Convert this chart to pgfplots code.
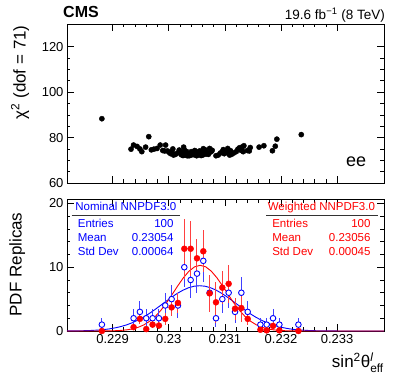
\documentclass[border=0pt]{standalone}
\usepackage{fontspec}
\setmainfont{Liberation Sans}
\usepackage{amsmath}
\usepackage{pgfplots}
\pgfplotsset{compat=1.18}
\definecolor{rootblue}{RGB}{0,0,255}
\definecolor{rootred}{RGB}{255,0,0}
\pgfplotsset{
  panel/.style={
    scale only axis, width=317pt,
    xmin=0.228189, xmax=0.233834,
    axis line style={black, line width=0.8pt},
    tick style={black, line width=0.6pt},
    major tick length=7pt, minor tick length=3.5pt,
    tick label style={font=\fontsize{13}{13}\selectfont},
    /pgf/number format/assume math mode=true,
    scaled x ticks=false, scaled y ticks=false,
    xtick={0.229,0.23,0.231,0.232,0.233},
    minor x tick num=4,
    clip=false,
  },
}
\tikzset{stat/.style={font=\fontsize{11.5}{11.5}\selectfont, inner sep=0pt}}
\begin{document}
\begin{tikzpicture}
\useasboundingbox (0pt,0pt) rectangle (399pt,383pt);
\node[anchor=base west, inner sep=0pt] at (63pt,365pt) {\fontsize{16}{16}\selectfont\bfseries CMS};
\node[anchor=base east, inner sep=0pt] at (385pt,363.5pt) {\fontsize{13.5}{13.5}\selectfont 19.6 fb\textsuperscript{−1} (8 TeV)};

% ---------------- top panel ----------------
\begin{axis}[panel, at={(67pt,200pt)}, anchor=south west, height=159pt,
  ymin=60, ymax=130, ytick={60,80,100,120}, minor y tick num=3,
  xticklabels={},
  ylabel={χ\textsuperscript{2} (dof = 71)},
  ylabel style={at={(axis description cs:-0.148,0.696)}, anchor=center, font=\fontsize{17}{17}\selectfont},
]
\addplot[only marks, mark=*, mark size=2.6pt, black] coordinates {
(0.228810,88.3)
(0.229329,74.9) (0.229374,76.7)
(0.229437,76.1) (0.229521,73.8) (0.229487,75.0)
(0.229589,75.8) (0.229645,80.4)
(0.229691,74.6) (0.229736,74.9)
(0.229792,75.2) (0.229849,76.7)
(0.229894,74.3) (0.229928,74.1) (0.229945,76.7) (0.229979,74.1)
(0.230007,73.5) (0.230035,72.9) (0.230058,73.8) (0.230086,72.3) (0.230074,75.0)
(0.230120,72.6) (0.230159,73.2) (0.230187,74.5) (0.230210,73.8)
(0.230266,75.8) (0.230278,72.3) (0.230306,73.5) (0.230329,72.0) (0.230244,72.7) (0.230295,73.0) (0.230227,72.4) (0.230317,73.9) (0.230255,72.1) (0.230283,74.4)
(0.230345,72.9) (0.230374,72.3) (0.230402,73.8) (0.230430,72.6) (0.230362,72.0) (0.230413,73.3) (0.230441,72.5) (0.230391,72.2)
(0.230453,73.2) (0.230498,72.0) (0.230537,72.6) (0.230549,74.1) (0.230470,72.4) (0.230515,73.5) (0.230487,72.9) (0.230526,73.0) (0.230464,74.3)
(0.230571,73.2) (0.230605,72.3) (0.230639,72.9) (0.230667,73.5) (0.230622,72.6) (0.230588,73.9) (0.230650,74.6) (0.230577,72.1) (0.230628,73.7) (0.230616,75.1) (0.230662,72.8)
(0.230707,72.6) (0.230741,73.6) (0.230763,74.0) (0.230679,72.9) (0.230729,75.2) (0.230774,74.4)
(0.230842,72.0) (0.230882,72.3)
(0.230921,73.2) (0.230955,73.8) (0.230989,72.9) (0.230972,74.7) (0.231006,73.4)
(0.231051,75.2) (0.231085,72.3) (0.231119,72.6) (0.231023,73.5) (0.231102,74.2) (0.231068,73.0)
(0.231158,73.2) (0.231203,73.8) (0.231232,74.9)
(0.231260,75.5) (0.231294,74.3) (0.231328,73.8) (0.231311,75.9) (0.231283,74.8) (0.231339,76.4)
(0.231401,74.3) (0.231435,74.1) (0.231452,75.6)
(0.231610,75.8)
(0.231695,76.4)
(0.231847,74.2) (0.231898,76.2)
(0.231926,79.3)
(0.232361,81.3)
};
\node[anchor=base east, inner sep=0pt] at (axis description cs:0.944,0.105) {\fontsize{18}{18}\selectfont ee};
\end{axis}

% ---------------- bottom panel ----------------
\begin{axis}[panel, at={(67pt,52pt)}, anchor=south west, height=132pt,
  ymin=0, ymax=20.7, ytick={0,10,20}, minor y tick num=4,
  xticklabels={0.229,0.23,0.231,0.232,0.233},
  ylabel={PDF Replicas},
  ylabel style={at={(axis description cs:-0.157,0.504)}, anchor=center, font=\fontsize{17}{17}\selectfont},
  xlabel={sin\textsuperscript{2}θ$^{\text{\itshape l}}_{\text{eff}}$},
  xlabel style={at={(axis description cs:1,-0.165)}, anchor=north east, inner sep=0pt, font=\fontsize{17}{17}\selectfont},
]
% Gaussian fit, nominal
\addplot[rootblue, line width=0.9pt, no marks] coordinates {
(0.22819,0.01) (0.22835,0.02) (0.22855,0.06) (0.22865,0.10) (0.22875,0.15) (0.22885,0.23)
(0.22895,0.34) (0.22905,0.50) (0.22915,0.70) (0.22925,0.96) (0.22935,1.29) (0.22945,1.70)
(0.22955,2.17) (0.22965,2.72) (0.22975,3.33) (0.22985,3.98) (0.22995,4.64) (0.23005,5.28)
(0.23015,5.88) (0.23025,6.38) (0.23035,6.77) (0.23045,7.02) (0.23055,7.10) (0.23065,7.02)
(0.23075,6.77) (0.23085,6.38) (0.23095,5.88) (0.23105,5.28) (0.23115,4.64) (0.23125,3.98)
(0.23135,3.33) (0.23145,2.72) (0.23155,2.17) (0.23165,1.70) (0.23175,1.29) (0.23185,0.96)
(0.23195,0.70) (0.23205,0.50) (0.23215,0.34) (0.23225,0.23) (0.23235,0.15) (0.23245,0.10)
(0.23255,0.06) (0.23275,0.02) (0.23295,0.01) (0.23315,0) (0.233834,0)
};
% Gaussian fit, weighted
\addplot[rootred, line width=0.9pt, no marks] coordinates {
(0.228189,0) (0.22856,0) (0.22876,0.005) (0.22896,0.02) (0.22906,0.05) (0.22916,0.10)
(0.22926,0.19) (0.22936,0.34) (0.22946,0.59) (0.22956,0.97) (0.22966,1.52) (0.22976,2.27)
(0.22986,3.24) (0.22996,4.40) (0.23006,5.71) (0.23016,7.06) (0.23026,8.33) (0.23036,9.37)
(0.23046,10.06) (0.23056,10.30) (0.23066,10.06) (0.23076,9.37) (0.23086,8.33) (0.23096,7.06)
(0.23106,5.71) (0.23116,4.40) (0.23126,3.24) (0.23136,2.27) (0.23146,1.52) (0.23156,0.97)
(0.23166,0.59) (0.23176,0.34) (0.23186,0.19) (0.23196,0.10) (0.23206,0.05) (0.23216,0.02)
(0.23236,0.005) (0.23256,0) (0.233834,0)
};
% Nominal histogram
\addplot[only marks, mark=*, mark size=2.8pt, mark options={draw=rootblue, fill=white, line width=0.9pt},
  error bars/.cd, y dir=both, y explicit, error mark=none,
  error bar style={rootblue!75, line width=1pt}] coordinates {
(0.228810,1) +- (0,1)
(0.229375,2) +- (0,1.414)
(0.229487,3) +- (0,1.732)
(0.229600,2) +- (0,1.414)
(0.229713,2) +- (0,1.414)
(0.229826,2) +- (0,1.414)
(0.229939,4) +- (0,2)
(0.230052,5) +- (0,2.236)
(0.230165,4) +- (0,2)
(0.230278,10) +- (0,3.162)
(0.230391,8) +- (0,2.828)
(0.230504,9) +- (0,3)
(0.230616,11) +- (0,3.317)
(0.230729,6) +- (0,2.449)
(0.230842,2) +- (0,1.414)
(0.230955,5) +- (0,2.236)
(0.231068,6) +- (0,2.449)
(0.231181,3) +- (0,1.732)
(0.231294,6) +- (0,2.449)
(0.231407,3) +- (0,1.732)
(0.231633,1) +- (0,1)
(0.231745,1) +- (0,1)
(0.231858,2) +- (0,1.414)
(0.231971,1) +- (0,1)
(0.232310,1) +- (0,1)
};
% Weighted histogram
\addplot[only marks, mark=*, mark size=3pt, rootred,
  error bars/.cd, y dir=both, y explicit, error mark=none,
  error bar style={rootred!75, line width=1pt}] coordinates {
(0.228810,0) +- (0,0)
(0.229375,0.6) +- (0,0.35)
(0.229487,1.9) +- (0,0.8)
(0.229600,0.3) +- (0,0.2)
(0.229713,1.0) +- (0,0.5)
(0.229826,0.85) +- (0,0.5)
(0.229939,1.9) +- (0,0.9)
(0.230052,3.7) +- (0,1.3)
(0.230165,4.4) +- (0,1.5)
(0.230278,12.9) +- (0,4.7)
(0.230391,12.9) +- (0,4.3)
(0.230504,11.4) +- (0,3.0)
(0.230616,12.5) +- (0,3.3)
(0.230729,5.9) +- (0,2.9)
(0.230842,4.5) +- (0,3.2)
(0.230955,6.8) +- (0,2.6)
(0.231068,7.4) +- (0,3.0)
(0.231181,3.5) +- (0,1.7)
(0.231294,3.6) +- (0,2.2)
(0.231407,1.9) +- (0,1.0)
(0.231633,0.2) +- (0,0.15)
(0.231745,0.1) +- (0,0.1)
(0.231858,0.8) +- (0,0.6)
(0.231971,0.1) +- (0,0.1)
(0.232310,0) +- (0,0)
};
% stats boxes
\node[stat, text=rootblue, anchor=base] at (axis description cs:0.1855,0.915) {Nominal NNPDF3.0};
\draw[black!80, line width=0.7pt] (axis description cs:0.0148,0.876) -- (axis description cs:0.355,0.876);
\node[stat, text=rootblue, anchor=west] at (axis description cs:0.0336,0.812) {Entries};
\node[stat, text=rootblue, anchor=west] at (axis description cs:0.0336,0.708) {Mean};
\node[stat, text=rootblue, anchor=west] at (axis description cs:0.0336,0.601) {Std Dev};
\node[stat, text=rootblue, anchor=east] at (axis description cs:0.3365,0.812) {100};
\node[stat, text=rootblue, anchor=east] at (axis description cs:0.3365,0.708) {0.23054};
\node[stat, text=rootblue, anchor=east] at (axis description cs:0.3365,0.601) {0.00064};
\node[stat, text=rootred, anchor=base] at (axis description cs:0.8025,0.915) {Weighted NNPDF3.0};
\draw[black!80, line width=0.7pt] (axis description cs:0.628,0.876) -- (axis description cs:0.981,0.876);
\node[stat, text=rootred, anchor=west] at (axis description cs:0.647,0.812) {Entries};
\node[stat, text=rootred, anchor=west] at (axis description cs:0.647,0.708) {Mean};
\node[stat, text=rootred, anchor=west] at (axis description cs:0.647,0.601) {Std Dev};
\node[stat, text=rootred, anchor=east] at (axis description cs:0.958,0.812) {100};
\node[stat, text=rootred, anchor=east] at (axis description cs:0.958,0.708) {0.23056};
\node[stat, text=rootred, anchor=east] at (axis description cs:0.958,0.601) {0.00045};
\end{axis}
\end{tikzpicture}
\end{document}
